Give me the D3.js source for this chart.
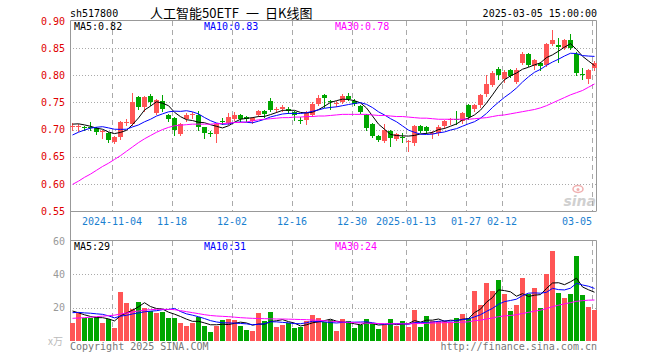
<!DOCTYPE html>
<html>
<head>
<meta charset="utf-8">
<script src="https://cdn.jsdelivr.net/npm/d3@7"></script>
<style>
  body { margin: 0; background: #fff; }
  svg text { font-family: "DejaVu Sans Mono", monospace; font-size: 10px; }
</style>
</head>
<body>
<div id="chart"></div>
<script>
// trading days shown on the chart
var dates = [
  "2024-10-24", "2024-10-25", "2024-10-28", "2024-10-29", "2024-10-30", "2024-10-31", "2024-11-01",
  "2024-11-04", "2024-11-05", "2024-11-06", "2024-11-07", "2024-11-08",
  "2024-11-11", "2024-11-12", "2024-11-13", "2024-11-14", "2024-11-15",
  "2024-11-18", "2024-11-19", "2024-11-20", "2024-11-21", "2024-11-22",
  "2024-11-25", "2024-11-26", "2024-11-27", "2024-11-28", "2024-11-29",
  "2024-12-02", "2024-12-03", "2024-12-04", "2024-12-05", "2024-12-06",
  "2024-12-09", "2024-12-10", "2024-12-11", "2024-12-12", "2024-12-13",
  "2024-12-16", "2024-12-17", "2024-12-18", "2024-12-19", "2024-12-20",
  "2024-12-23", "2024-12-24", "2024-12-25", "2024-12-26", "2024-12-27",
  "2024-12-30", "2024-12-31", "2025-01-02", "2025-01-03",
  "2025-01-06", "2025-01-07", "2025-01-08", "2025-01-09", "2025-01-10",
  "2025-01-13", "2025-01-14", "2025-01-15", "2025-01-16", "2025-01-17",
  "2025-01-20", "2025-01-21", "2025-01-22", "2025-01-23", "2025-01-24",
  "2025-01-27", "2025-02-05", "2025-02-06", "2025-02-07",
  "2025-02-10", "2025-02-11", "2025-02-12", "2025-02-13", "2025-02-14",
  "2025-02-17", "2025-02-18", "2025-02-19", "2025-02-20", "2025-02-21",
  "2025-02-24", "2025-02-25", "2025-02-26", "2025-02-27", "2025-02-28",
  "2025-03-03", "2025-03-04", "2025-03-05"
];

var opens = [
  0.705, 0.704, 0.704, 0.705, 0.702, 0.695, 0.693, 0.677, 0.687, 0.712,
  0.710, 0.760, 0.742, 0.762, 0.731, 0.752, 0.727, 0.721, 0.692, 0.719,
  0.728, 0.727, 0.704, 0.694, 0.692, 0.716, 0.713, 0.719, 0.727, 0.723,
  0.715, 0.727, 0.734, 0.752, 0.736, 0.738, 0.737, 0.733, 0.718, 0.717,
  0.727, 0.747, 0.764, 0.753, 0.747, 0.751, 0.762, 0.753, 0.743, 0.727,
  0.710, 0.688, 0.679, 0.698, 0.683, 0.687, 0.677, 0.676, 0.707, 0.705,
  0.693, 0.693, 0.706, 0.717, 0.720, 0.715, 0.745, 0.738, 0.746, 0.765,
  0.783, 0.811, 0.793, 0.810, 0.788, 0.822, 0.839, 0.817, 0.822, 0.819,
  0.858, 0.855, 0.850, 0.865, 0.840, 0.803, 0.793, 0.813
];
var highs = [
  0.712, 0.710, 0.706, 0.714, 0.704, 0.699, 0.696, 0.689, 0.716, 0.720,
  0.767, 0.762, 0.762, 0.765, 0.756, 0.764, 0.729, 0.723, 0.712, 0.730,
  0.733, 0.735, 0.705, 0.698, 0.713, 0.722, 0.730, 0.732, 0.729, 0.725,
  0.723, 0.736, 0.736, 0.758, 0.741, 0.745, 0.741, 0.735, 0.724, 0.735,
  0.750, 0.764, 0.765, 0.755, 0.752, 0.765, 0.767, 0.756, 0.745, 0.729,
  0.712, 0.690, 0.710, 0.700, 0.694, 0.693, 0.681, 0.708, 0.709, 0.707,
  0.697, 0.708, 0.718, 0.722, 0.735, 0.732, 0.747, 0.748, 0.765, 0.800,
  0.807, 0.816, 0.809, 0.812, 0.813, 0.842, 0.841, 0.830, 0.825, 0.860,
  0.883, 0.868, 0.867, 0.876, 0.842, 0.813, 0.812, 0.827
];
var lows = [
  0.700, 0.698, 0.699, 0.699, 0.692, 0.684, 0.678, 0.675, 0.683, 0.708,
  0.708, 0.738, 0.735, 0.745, 0.729, 0.735, 0.716, 0.690, 0.690, 0.715,
  0.722, 0.700, 0.684, 0.688, 0.678, 0.710, 0.711, 0.717, 0.716, 0.715,
  0.712, 0.725, 0.724, 0.734, 0.733, 0.735, 0.730, 0.718, 0.712, 0.711,
  0.725, 0.745, 0.742, 0.737, 0.744, 0.749, 0.754, 0.745, 0.730, 0.699,
  0.686, 0.679, 0.678, 0.670, 0.680, 0.678, 0.661, 0.672, 0.695, 0.694,
  0.685, 0.690, 0.703, 0.710, 0.710, 0.712, 0.720, 0.735, 0.742, 0.762,
  0.780, 0.794, 0.788, 0.796, 0.786, 0.820, 0.817, 0.812, 0.810, 0.817,
  0.855, 0.824, 0.848, 0.848, 0.800, 0.793, 0.786, 0.810
];
var closes = [
  0.707, 0.706, 0.702, 0.703, 0.695, 0.697, 0.681, 0.687, 0.714, 0.714,
  0.750, 0.742, 0.760, 0.750, 0.754, 0.737, 0.719, 0.699, 0.710, 0.726,
  0.729, 0.704, 0.694, 0.692, 0.711, 0.714, 0.724, 0.727, 0.719, 0.719,
  0.721, 0.734, 0.728, 0.736, 0.738, 0.741, 0.735, 0.727, 0.717, 0.733,
  0.748, 0.759, 0.758, 0.752, 0.749, 0.762, 0.756, 0.747, 0.732, 0.702,
  0.688, 0.681, 0.700, 0.684, 0.692, 0.685, 0.679, 0.706, 0.698, 0.697,
  0.694, 0.705, 0.716, 0.719, 0.718, 0.730, 0.723, 0.745, 0.763, 0.784,
  0.805, 0.801, 0.806, 0.799, 0.810, 0.840, 0.819, 0.828, 0.818, 0.858,
  0.865, 0.853, 0.865, 0.850, 0.805, 0.802, 0.810, 0.822
];
// closes of the days just before the window, needed for the first MA5/MA10 points
var preCloses = [0.655, 0.662, 0.668, 0.678, 0.687, 0.703, 0.712, 0.716, 0.712];

// volume, in 万 lots
var volumes = [
  11.0, 16.6, 14.0, 14.0, 14.4, 11.0, 13.0, 7.8, 29.4, 23.0,
  19.0, 23.4, 20.0, 18.0, 17.0, 17.5, 14.0, 14.0, 11.0, 9.0,
  11.0, 14.2, 9.0, 5.5, 9.0, 12.6, 13.3, 12.6, 9.0, 6.6,
  6.0, 16.7, 12.1, 17.3, 8.5, 9.6, 10.6, 7.8, 8.6, 12.0,
  15.6, 13.6, 11.4, 12.8, 6.1, 13.1, 11.8, 7.9, 9.5, 13.2,
  10.1, 7.2, 9.4, 13.2, 9.1, 12.0, 8.5, 18.6, 8.4, 15.0,
  12.0, 12.0, 12.0, 11.4, 13.8, 16.2, 13.7, 30.2, 21.6, 34.8,
  30.2, 36.6, 28.0, 18.0, 21.6, 37.8, 28.2, 31.8, 19.8, 40.2,
  54.0, 29.0, 26.0, 28.5, 51.0, 27.6, 20.6, 18.6
];
var preVolumes = [15, 17, 16, 18, 14, 22, 20, 19, 18];

// 30 day averages (they reach back before the window)
var priceMa30 = [
  0.599, 0.605, 0.612, 0.618, 0.625, 0.632, 0.638, 0.645, 0.652, 0.660,
  0.668, 0.676, 0.683, 0.689, 0.695, 0.700, 0.704, 0.707, 0.708, 0.709,
  0.710, 0.710, 0.710, 0.710, 0.711, 0.711, 0.712, 0.713, 0.713, 0.714,
  0.716, 0.718, 0.719, 0.720, 0.721, 0.722, 0.722, 0.723, 0.723, 0.724,
  0.724, 0.725, 0.725, 0.726, 0.727, 0.728, 0.728, 0.728, 0.728, 0.728,
  0.727, 0.726, 0.726, 0.725, 0.724, 0.724, 0.723, 0.722, 0.721, 0.721,
  0.720, 0.719, 0.719, 0.719, 0.719, 0.719, 0.719, 0.720, 0.721, 0.722,
  0.724, 0.726, 0.727, 0.729, 0.731, 0.733, 0.735, 0.737, 0.740, 0.744,
  0.749, 0.754, 0.759, 0.764, 0.768, 0.772, 0.778, 0.784
];
var volMa30 = [
  13.6, 13.8, 14.0, 14.3, 14.6, 14.9, 15.2, 15.5, 16.2, 16.8,
  17.4, 18.0, 18.5, 18.8, 19.0, 19.0, 19.0, 18.8, 18.2, 17.6,
  17.0, 16.4, 15.8, 15.3, 15.0, 14.8, 14.6, 14.3, 14.0, 13.8,
  13.6, 13.5, 13.4, 13.3, 13.2, 13.2, 13.1, 13.0, 12.9, 12.8,
  12.6, 12.4, 12.2, 11.9, 11.6, 11.4, 11.2, 11.0, 10.8, 10.7,
  10.6, 10.5, 10.4, 10.4, 10.3, 10.3, 10.3, 10.4, 10.5, 10.6,
  10.8, 10.9, 11.0, 11.1, 11.2, 11.3, 11.5, 12.2, 12.5, 13.2,
  13.8, 14.6, 15.1, 15.3, 15.8, 16.5, 17.2, 17.9, 18.5, 19.5,
  20.6, 21.5, 22.3, 23.0, 23.8, 24.2, 24.5, 24.6
];

var labelDates = ["2024-11-04", "2024-11-18", "2024-12-02", "2024-12-16", "2024-12-30",
  "2025-01-13", "2025-01-27", "2025-02-12", "2025-03-05"];
var priceTicks = [0.55, 0.60, 0.65, 0.70, 0.75, 0.80, 0.85, 0.90];
var volTicks = [20, 40, 60];
var maLabels = ["MA5:0.82", "MA10:0.83", "MA30:0.78"];
var volMaLabels = ["MA5:29", "MA10:31", "MA30:24"];


var width = 660;
var height = 360;
var left = 70, right = 597;

var red = "#ff5555", green = "#00a600";
var maColors = ["#000000", "#0000ff", "#ff00ff"];

var svg = d3.select('#chart')
  .append("svg")
  .attr("width", width)
  .attr("height", height)

var x = d3.scaleBand()
  .domain(dates)
  .range([left, right])
  .paddingInner(1 / 6)
  .paddingOuter(0)
  .align(0)

var yPrice = d3.scaleLinear().domain([0.55, 0.90]).range([211, 21])
var yVol = d3.scaleLinear().domain([0, 60]).range([341, 241])

function mid(d) {
  return x(d) + x.bandwidth() / 2
}

// rolling mean, using the values before the window for the first points
function movingAvg(values, pre, n) {
  var all = pre.concat(values)
  return values.map(function (v, i) {
    var end = i + pre.length
    return d3.mean(all.slice(end - n + 1, end + 1))
  })
}

// ---- header
svg.append("text").attr("x", 70).attr("y", 16.5).text("sh517800")
var title = svg.append("text")
  .attr("x", 150).attr("y", 18)
  .style("font-family", "'Noto Sans CJK SC', sans-serif")
  .style("font-size", "13px")
title.append("tspan").text("人工智能50ETF")
title.append("tspan").attr("dx", 7).text("一")
title.append("tspan").attr("dx", 6).text("日K线图")
svg.append("text").attr("x", right).attr("y", 16.5).attr("text-anchor", "end").text("2025-03-05 15:00:00")

// ---- watermark
var logo = svg.append("g").attr("opacity", 0.45)
logo.append("ellipse").attr("cx", 578).attr("cy", 189).attr("rx", 5).attr("ry", 3.5)
  .attr("fill", "none").attr("stroke", "#e05050").attr("stroke-width", 1.5)
logo.append("circle").attr("cx", 578).attr("cy", 189.5).attr("r", 1.5).attr("fill", "#e05050")
logo.append("text").attr("x", 596).attr("y", 206).attr("text-anchor", "end")
  .style("font-family", "'DejaVu Sans', sans-serif").style("font-size", "14px")
  .style("font-weight", "bold").style("font-style", "italic")
  .attr("fill", "#999").text("sina")

// ---- grids
function panelGrid(y, ticks, top, bottom) {
  svg.append("g")
    .selectAll("line")
    .data(ticks)
    .enter()
    .append("line")
    .attr("x1", left).attr("x2", right)
    .attr("y1", function (d) { return Math.round(y(d)) + 0.5 })
    .attr("y2", function (d) { return Math.round(y(d)) + 0.5 })
    .attr("stroke", "#aaa")
    .attr("stroke-dasharray", "1,2")

  svg.append("g")
    .selectAll("line")
    .data(labelDates)
    .enter()
    .append("line")
    .attr("x1", function (d) { return Math.round(x(d)) + 0.5 })
    .attr("x2", function (d) { return Math.round(x(d)) + 0.5 })
    .attr("y1", top).attr("y2", bottom)
    .attr("stroke", "#aaa")
    .attr("stroke-dasharray", "5,4")
}
panelGrid(yPrice, [0.60, 0.65, 0.70, 0.75, 0.80, 0.85], 21, 211)
panelGrid(yVol, [20, 40], 241, 341)

// frames
svg.append("path")
  .attr("d", "M70.5,341V20.5H596.5V211M70.5,211.5H596.5M70.5,240.5H596.5V341")
  .attr("fill", "none")
  .attr("stroke", "#999")

// ---- axes
var priceAxis = svg.append("g")
  .attr("transform", "translate(" + left + ",0)")
  .attr("color", "#e00000")
  .call(d3.axisLeft(yPrice).tickValues(priceTicks).tickSize(0).tickPadding(5).tickFormat(d3.format(".2f")))
priceAxis.select(".domain").remove()
priceAxis.selectAll("text").attr("fill", "#e00000").style("font-family", "'DejaVu Sans Mono', monospace").style("font-size", "10px")

var volAxis = svg.append("g")
  .attr("transform", "translate(" + left + ",0)")
  .attr("color", "#999")
  .call(d3.axisLeft(yVol).tickValues(volTicks).tickSize(0).tickPadding(5).tickFormat(d3.format("d")))
volAxis.select(".domain").remove()
volAxis.selectAll("text").attr("fill", "#999").style("font-family", "'DejaVu Sans Mono', monospace").style("font-size", "10px")

var dateAxis = svg.append("g")
  .attr("transform", "translate(" + (-x.bandwidth() / 2) + ",211)")
  .attr("color", "#1a80d0")
  .call(d3.axisBottom(x).tickValues(labelDates).tickSize(0).tickPadding(7)
    .tickFormat(function (d, i) {
      if (i === 0 || d.slice(0, 4) !== labelDates[i - 1].slice(0, 4)) return d
      return d.slice(5)
    }))
dateAxis.select(".domain").remove()
dateAxis.selectAll("text")
  .attr("fill", "#1a80d0")
  .style("font-family", "'DejaVu Sans Mono', monospace")
  .style("font-size", "10px")
  .attr("text-anchor", function (d, i) { return i === labelDates.length - 1 ? "end" : "middle" })

// ---- candles
var candles = dates.map(function (d, i) {
  return { date: d, o: opens[i], h: highs[i], l: lows[i], c: closes[i], v: volumes[i] }
})

function colorOf(d) {
  return d.c >= d.o ? red : green
}

svg.append("g")
  .selectAll("line")
  .data(candles)
  .enter()
  .append("line")
  .attr("x1", function (d) { return Math.floor(mid(d.date)) + 0.5 })
  .attr("x2", function (d) { return Math.floor(mid(d.date)) + 0.5 })
  .attr("y1", function (d) { return Math.round(yPrice(d.h)) })
  .attr("y2", function (d) { return Math.round(yPrice(d.l)) + 1 })
  .attr("stroke", colorOf)

svg.append("g")
  .selectAll("rect")
  .data(candles)
  .enter()
  .append("rect")
  .attr("x", function (d) { return Math.round(x(d.date)) })
  .attr("width", Math.round(x.bandwidth()))
  .attr("y", function (d) { return Math.round(yPrice(Math.max(d.o, d.c))) })
  .attr("height", function (d) {
    return Math.max(1, Math.round(yPrice(Math.min(d.o, d.c))) - Math.round(yPrice(Math.max(d.o, d.c))))
  })
  .attr("fill", colorOf)

// ---- volume bars
svg.append("g")
  .selectAll("rect")
  .data(candles)
  .enter()
  .append("rect")
  .attr("x", function (d) { return Math.round(x(d.date)) })
  .attr("width", Math.round(x.bandwidth()))
  .attr("y", function (d) { return Math.round(yVol(d.v)) })
  .attr("height", function (d) { return 341 - Math.round(yVol(d.v)) })
  .attr("fill", colorOf)

// ---- moving average lines
var priceMas = [movingAvg(closes, preCloses, 5), movingAvg(closes, preCloses, 10), priceMa30]
var volMas = [movingAvg(volumes, preVolumes, 5), movingAvg(volumes, preVolumes, 10), volMa30]

function drawLines(series, y) {
  var line = d3.line()
    .x(function (d, i) { return mid(dates[i]) })
    .y(function (d) { return y(d) })
  series.forEach(function (s, k) {
    svg.append("path")
      .attr("d", line(s))
      .attr("fill", "none")
      .attr("stroke", maColors[k])
      .attr("stroke-width", 1)
  })
}
drawLines(priceMas, yPrice)
drawLines(volMas, yVol)

// ---- legends
var legendX = [74, 204, 335]
maLabels.forEach(function (t, k) {
  svg.append("text").attr("x", legendX[k]).attr("y", 29.5).attr("fill", maColors[k]).text(t)
})
volMaLabels.forEach(function (t, k) {
  svg.append("text").attr("x", legendX[k]).attr("y", 249.5).attr("fill", maColors[k]).text(t)
})

// ---- footer
svg.append("text").attr("x", 48).attr("y", 345).attr("fill", "#bbb")
  .style("font-family", "'Noto Sans CJK SC', sans-serif").text("x万")
svg.append("text").attr("x", 70).attr("y", 349.5).attr("fill", "#777").text("Copyright 2025 SINA.COM")
svg.append("text").attr("x", right).attr("y", 349.5).attr("text-anchor", "end").attr("fill", "#777").text("http://finance.sina.com.cn")
</script>
</body>
</html>
